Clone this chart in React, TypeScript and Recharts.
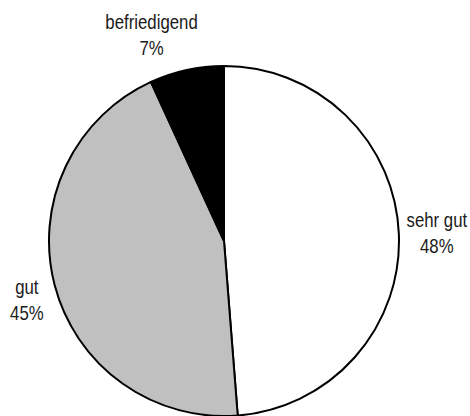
import React from "react";
import { PieChart, Pie, Cell } from "recharts";

const categories = ["sehr gut", "gut", "befriedigend"];
const shares = [48.75, 44.4, 6.85];
const percentLabels = ["48%", "45%", "7%"];
const fills = ["#FFFFFF", "#C0C0C0", "#000000"];

const data = categories.map((name, i) => ({ name, value: shares[i], pct: percentLabels[i] }));

const LABEL_GAP = 38;
const LINE_H = 26;
const FONT_SCALE_X = 0.84;
const LABEL_NUDGE: Record<string, [number, number]> = {
  gut: [9, 5],
  befriedigend: [-27, 2],
};
const RAD = Math.PI / 180;

const renderLabel = (props: any) => {
  const { cx, cy, midAngle, outerRadius, index } = props;
  const r = outerRadius + LABEL_GAP;
  const name = categories[index];
  const nudge = LABEL_NUDGE[name] || [0, 0];
  const x = cx + r * Math.cos(-midAngle * RAD) + nudge[0];
  const y = cy + r * Math.sin(-midAngle * RAD) + nudge[1];
  return (
    <text
      transform={`translate(${x} ${y}) scale(${FONT_SCALE_X} 1)`}
      textAnchor="middle"
      fill="#1a1a1a"
      fontFamily="'Liberation Sans', Arial, sans-serif"
      fontSize={20}
    >
      <tspan x={0} y={-6}>{name}</tspan>
      <tspan x={0} y={-6 + LINE_H}>{percentLabels[index]}</tspan>
    </text>
  );
};

export default function App() {
  return (
    <div style={{ position: "absolute", left: 0, top: 0, width: 470, height: 416, background: "#fff" }}>
      <PieChart width={470} height={416} margin={{ top: 0, right: 0, bottom: 0, left: 0 }}>
        <Pie
          data={data}
          dataKey="value"
          nameKey="name"
          cx={224}
          cy={241}
          outerRadius={175}
          startAngle={90}
          endAngle={-270}
          stroke="#000"
          strokeWidth={2}
          label={renderLabel}
          labelLine={false}
          isAnimationActive={false}
        >
          {data.map((d, i) => (
            <Cell key={d.name} fill={fills[i]} stroke="#000" strokeWidth={2} />
          ))}
        </Pie>
      </PieChart>
    </div>
  );
}
